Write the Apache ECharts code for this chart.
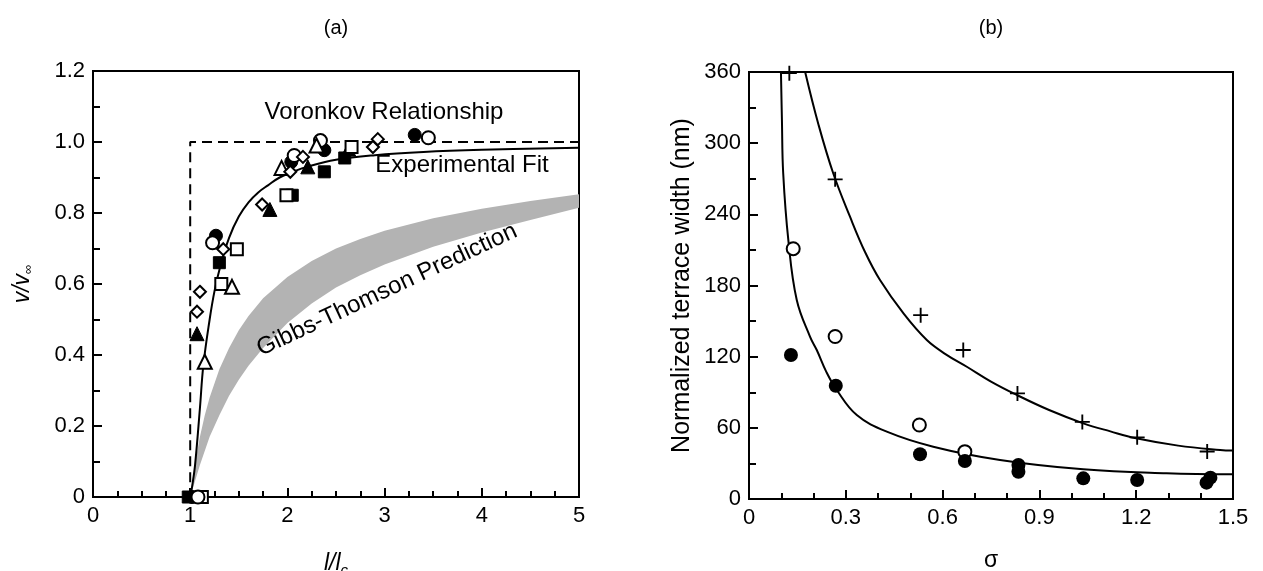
<!DOCTYPE html>
<html>
<head>
<meta charset="utf-8">
<script src="https://cdn.jsdelivr.net/npm/echarts@6/dist/echarts.min.js"></script>
<style>
html, body { margin: 0; padding: 0; background: #fff; }
#container { width: 1263px; height: 571px; }
</style>
</head>
<body>
<div id="container"></div>
<script>
// ---- panel (a): v/v_inf against l/l_c ----
var filledCircleA = [[1.02, 0], [1.265, 0.736], [2.04, 0.944], [2.38, 0.977], [3.31, 1.02]];
var openCircleA = [[1.08, 0], [1.23, 0.716], [2.07, 0.962], [2.34, 1.004], [3.45, 1.012]];
var filledSquareA = [[0.98, 0], [1.30, 0.66], [2.05, 0.85], [2.38, 0.916], [2.59, 0.955]];
var openSquareA = [[1.12, 0], [1.32, 0.60], [1.48, 0.698], [1.99, 0.85], [2.66, 0.986]];
var filledTriangleA = [[1.07, 0.46], [1.82, 0.81], [2.21, 0.93], [2.63, 0.98]];
var openTriangleA = [[1.15, 0.381], [1.43, 0.592], [1.94, 0.927], [2.30, 0.99]];
var openDiamondA = [[1.07, 0.522], [1.10, 0.578], [1.34, 0.698], [1.74, 0.824], [2.03, 0.916],
    [2.16, 0.958], [2.88, 0.986], [2.93, 1.008]];

// Voronkov step (dashed)
var voronkovA = [[0, 0], [1, 0], [1, 1], [5, 1]];
// experimental fit (solid)
var fitA = [[1.0, 0], [1.02, 0.03], [1.05, 0.09], [1.1, 0.25], [1.135, 0.37], [1.2, 0.5],
    [1.25, 0.58], [1.31, 0.65], [1.4, 0.73], [1.5, 0.79], [1.6, 0.83], [1.7, 0.858],
    [1.8, 0.878], [1.92, 0.9], [2.05, 0.915], [2.2, 0.93], [2.5, 0.95], [2.9, 0.963],
    [3.4, 0.972], [4.0, 0.978], [5.0, 0.984]];
// Gibbs-Thomson band edges
var gibbsUpperA = [[1, 0], [1.03, 0.06], [1.06, 0.11], [1.1, 0.17], [1.15, 0.23], [1.2, 0.28],
    [1.3, 0.36], [1.4, 0.42], [1.5, 0.47], [1.6, 0.51], [1.75, 0.56], [2, 0.62], [2.25, 0.665],
    [2.5, 0.70], [2.75, 0.727], [3, 0.75], [3.5, 0.785], [4, 0.812], [4.5, 0.834], [5, 0.853]];
var gibbsLowerA = [[1, 0], [1.05, 0.045], [1.1, 0.09], [1.2, 0.17], [1.3, 0.23], [1.4, 0.285],
    [1.5, 0.33], [1.6, 0.37], [1.75, 0.42], [2, 0.49], [2.25, 0.545], [2.5, 0.59], [2.75, 0.625],
    [3, 0.655], [3.5, 0.705], [4, 0.745], [4.5, 0.78], [5, 0.815]];

// ---- panel (b): terrace width against sigma ----
var plusB = [[0.125, 359], [0.267, 269.5], [0.532, 155], [0.664, 125.6], [0.832, 89],
    [1.033, 65], [1.203, 52], [1.42, 40]];
var openCircleB = [[0.137, 211], [0.267, 137], [0.528, 62.4], [0.669, 39.9]];
var filledCircleB = [[0.130, 121.4], [0.269, 95.5], [0.530, 37.7], [0.669, 32], [0.835, 28.7],
    [0.835, 23], [1.036, 17.4], [1.203, 16], [1.418, 13.8], [1.43, 18]];
var upperFitB = [[0.174, 360], [0.215, 316], [0.261, 274.6], [0.313, 238], [0.36, 208],
    [0.406, 184.6], [0.48, 156], [0.551, 134], [0.61, 122], [0.675, 111.5], [0.75, 99],
    [0.83, 87.7], [0.93, 75], [1.036, 63.8], [1.12, 57], [1.2, 51.2], [1.33, 45],
    [1.46, 41.3], [1.5, 40.8]];
var lowerFitB = [[0.099, 360], [0.102, 320], [0.106, 274.6], [0.122, 218], [0.148, 167.8],
    [0.189, 136.9], [0.21, 125.6], [0.24, 107], [0.272, 91.9], [0.334, 70.8], [0.427, 56.8],
    [0.571, 44.1], [0.778, 32.9], [1.036, 25], [1.294, 21.7], [1.5, 20.8]];

var FONT = "'Liberation Sans', Arial, sans-serif";
var plusPath = 'path://M7,0H9V7H16V9H9V16H7V9H0V7H7Z';

function axisCommon() {
    return {
        axisLine: { show: true, onZero: false, lineStyle: { color: '#000', width: 2 } },
        axisTick: { show: true, inside: true, length: 9, lineStyle: { color: '#000', width: 2 } },
        minorTick: { show: true, length: 7, lineStyle: { color: '#000', width: 2 } },
        axisLabel: { color: '#000', fontSize: 22, fontFamily: FONT },
        splitLine: { show: false },
        nameTextStyle: { color: '#000', fontSize: 23, fontFamily: FONT }
    };
}

function merge(a, b) {
    for (var k in b) { a[k] = b[k]; }
    return a;
}

function fmt1(v) {
    return v === 0 ? '0' : v.toFixed(1);
}

function scatterA(data, symbol, filled, size) {
    return {
        type: 'scatter', xAxisIndex: 0, yAxisIndex: 0, data: data,
        symbol: symbol, symbolSize: size, clip: false, z: 5,
        itemStyle: filled ? { color: '#000', borderColor: '#000', borderWidth: 1, opacity: 1 }
                          : { color: '#fff', borderColor: '#000', borderWidth: 2, opacity: 1 }
    };
}

var dom = document.getElementById('container');
var myChart = echarts.init(dom);

var option = {
    animation: false,
    backgroundColor: '#fff',
    grid: [
        { left: 93, top: 71, width: 486, height: 426, outerBoundsMode: 'none', containLabel: false,
          show: true, borderColor: '#000', borderWidth: 2 },
        { left: 749, top: 72, width: 484, height: 427, outerBoundsMode: 'none', containLabel: false,
          show: true, borderColor: '#000', borderWidth: 2 }
    ],
    xAxis: [
        merge(axisCommon(), {
            gridIndex: 0, type: 'value', min: 0, max: 5, interval: 1,
            minorTick: { show: true, splitNumber: 4, length: 6, lineStyle: { color: '#000', width: 2 } },
            name: '{i|l/l}{s|c}', nameLocation: 'middle', nameGap: 52,
            nameTextStyle: {
                color: '#000', fontFamily: FONT, fontSize: 23,
                rich: {
                    i: { fontStyle: 'italic', fontSize: 23, fontFamily: FONT, color: '#000' },
                    s: { fontStyle: 'italic', fontSize: 15, fontFamily: FONT, color: '#000', padding: [14, 0, 0, 0] }
                }
            }
        }),
        merge(axisCommon(), {
            gridIndex: 1, type: 'value', min: 0, max: 1.5, interval: 0.3,
            minorTick: { show: true, splitNumber: 3, length: 6, lineStyle: { color: '#000', width: 2 } },
            axisLabel: { color: '#000', fontSize: 22, fontFamily: FONT, formatter: fmt1 },
            name: 'σ', nameLocation: 'middle', nameGap: 50
        })
    ],
    yAxis: [
        merge(axisCommon(), {
            gridIndex: 0, type: 'value', min: 0, max: 1.2, interval: 0.2,
            minorTick: { show: true, splitNumber: 2, length: 7, lineStyle: { color: '#000', width: 2 } },
            axisLabel: { color: '#000', fontSize: 22, fontFamily: FONT, formatter: fmt1 },
            name: '{i|v/v}{s|∞}', nameLocation: 'middle', nameGap: 58,
            nameTextStyle: {
                color: '#000', fontFamily: FONT, fontSize: 23,
                rich: {
                    i: { fontStyle: 'italic', fontSize: 23, fontFamily: FONT, color: '#000' },
                    s: { fontSize: 13, fontFamily: FONT, color: '#000', padding: [12, 0, 0, 0] }
                }
            }
        }),
        merge(axisCommon(), {
            gridIndex: 1, type: 'value', min: 0, max: 360, interval: 60,
            minorTick: { show: true, splitNumber: 2, length: 7, lineStyle: { color: '#000', width: 2 } },
            name: 'Normalized terrace width (nm)', nameLocation: 'middle', nameGap: 54,
            nameTextStyle: { color: '#000', fontSize: 25, fontFamily: FONT }
        })
    ],
    graphic: [
        { type: 'text', x: 336, y: 28, style: { text: '(a)', font: '20px ' + FONT, fill: '#000', align: 'center', verticalAlign: 'middle' } },
        { type: 'text', x: 991, y: 28, style: { text: '(b)', font: '20px ' + FONT, fill: '#000', align: 'center', verticalAlign: 'middle' } },
        { type: 'text', x: 384, y: 112, z: 10, style: { text: 'Voronkov Relationship', font: '24px ' + FONT, fill: '#000', align: 'center', verticalAlign: 'middle' } },
        { type: 'text', x: 462, y: 165, z: 10, style: { text: 'Experimental Fit', font: '24px ' + FONT, fill: '#000', align: 'center', verticalAlign: 'middle' } },
        { type: 'text', x: 387, y: 290, z: 10, rotation: 25 * Math.PI / 180, style: { text: 'Gibbs-Thomson Prediction', font: '24px ' + FONT, fill: '#000', align: 'center', verticalAlign: 'middle' } }
    ],
    series: [
        {
            type: 'custom', xAxisIndex: 0, yAxisIndex: 0, data: [0], z: 1, silent: true,
            renderItem: function (params, api) {
                var pts = [];
                gibbsUpperA.forEach(function (p) { pts.push(api.coord(p)); });
                gibbsLowerA.slice().reverse().forEach(function (p) { pts.push(api.coord(p)); });
                return { type: 'polygon', shape: { points: pts }, style: { fill: '#b3b3b3', stroke: null } };
            }
        },
        {
            type: 'line', xAxisIndex: 0, yAxisIndex: 0, data: voronkovA, symbol: 'none', z: 3,
            lineStyle: { color: '#000', width: 2, type: [10, 6] }
        },
        {
            type: 'line', xAxisIndex: 0, yAxisIndex: 0, data: fitA, symbol: 'none', smooth: 0.4, z: 3,
            lineStyle: { color: '#000', width: 2 }
        },
        scatterA(filledSquareA, 'rect', true, 12),
        scatterA(filledCircleA, 'circle', true, 13),
        scatterA(filledTriangleA, 'triangle', true, 14),
        scatterA(openSquareA, 'rect', false, 12),
        scatterA(openCircleA, 'circle', false, 13),
        scatterA(openTriangleA, 'triangle', false, 14),
        scatterA(openDiamondA, 'diamond', false, 12),
        {
            type: 'line', xAxisIndex: 1, yAxisIndex: 1, data: upperFitB, symbol: 'none', smooth: 0.4, z: 3,
            lineStyle: { color: '#000', width: 2 }
        },
        {
            type: 'line', xAxisIndex: 1, yAxisIndex: 1, data: lowerFitB, symbol: 'none', smooth: 0.4, z: 3,
            lineStyle: { color: '#000', width: 2 }
        },
        {
            type: 'scatter', xAxisIndex: 1, yAxisIndex: 1, data: plusB, symbol: plusPath, symbolSize: 15,
            clip: false, z: 5, itemStyle: { color: '#000', opacity: 1 }
        },
        {
            type: 'scatter', xAxisIndex: 1, yAxisIndex: 1, data: openCircleB, symbol: 'circle', symbolSize: 13,
            clip: false, z: 5, itemStyle: { color: '#fff', borderColor: '#000', borderWidth: 2, opacity: 1 }
        },
        {
            type: 'scatter', xAxisIndex: 1, yAxisIndex: 1, data: filledCircleB, symbol: 'circle', symbolSize: 14,
            clip: false, z: 5, itemStyle: { color: '#000', opacity: 1 }
        }
    ]
};

myChart.setOption(option, true);
</script>
</body>
</html>
